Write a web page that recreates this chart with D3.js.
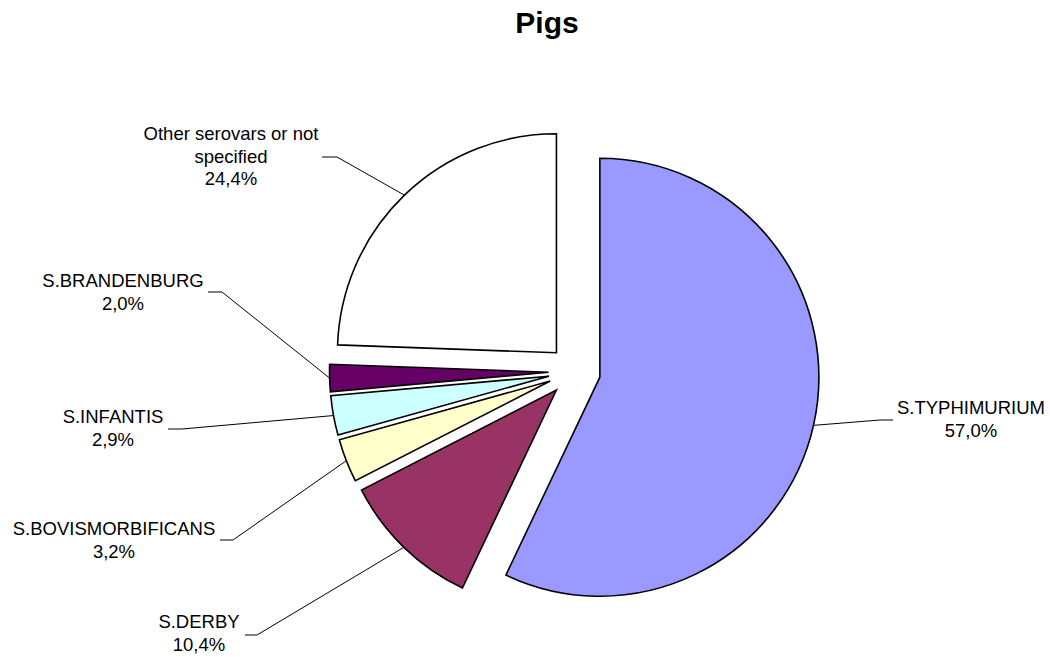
<!DOCTYPE html>
<html>
<head>
<meta charset="utf-8">
<script src="https://cdn.jsdelivr.net/npm/d3@7"></script>
<style>
  html, body { margin: 0; padding: 0; background: #ffffff; }
  svg { display: block; }
  text { font-family: "Liberation Sans", Arial, sans-serif; fill: #000; }
</style>
</head>
<body>
<svg id="chart" width="1050" height="657"></svg>
<script>
// ---- data ----
const categories = ["S.TYPHIMURIUM", "S.DERBY", "S.BOVISMORBIFICANS", "S.INFANTIS", "S.BRANDENBURG", "Other serovars or not specified"];
const values = [57.0, 10.4, 3.2, 2.9, 2.0, 24.4];
const colors = ["#9999FF", "#993366", "#FFFFCC", "#CCFFFF", "#660066", "#FFFFFF"];
const labelLines = [
  ["S.TYPHIMURIUM"],
  ["S.DERBY"],
  ["S.BOVISMORBIFICANS"],
  ["S.INFANTIS"],
  ["S.BRANDENBURG"],
  ["Other serovars or not", "specified"]
];
const title = "Pigs";

// ---- layout (positions only) ----
const cx = 574.5, cy = 371.5, radius = 219, explode = 26;
// label centre x, first baseline y, leader anchor [x,y], stub end x
const labelLayout = [
  { x: 971, y: 414, ax: 893, ay: 420, sx: 880 },
  { x: 199, y: 628, ax: 245, ay: 635, sx: 257 },
  { x: 114, y: 535, ax: 220, ay: 540, sx: 233 },
  { x: 113, y: 423, ax: 168, ay: 429, sx: 182 },
  { x: 123, y: 287, ax: 208, ay: 292, sx: 222 },
  { x: 231, y: 140, ax: 322, ay: 157, sx: 337 }
];
const lineH = 22.5;

const svg = d3.select("#chart");
const fmt = v => d3.format(".1f")(v).replace(".", ",") + "%";

svg.append("text")
  .attr("x", 547).attr("y", 33)
  .attr("text-anchor", "middle")
  .style("font-size", "30px").style("font-weight", "bold")
  .text(title);

const data = categories.map((c, i) => ({ name: c, value: values[i], color: colors[i], lines: labelLines[i], layout: labelLayout[i] }));
const pie = d3.pie().value(d => d.value).sort(null);
const arcs = pie(data);
const arc = d3.arc().innerRadius(0).outerRadius(radius);

const g = svg.append("g").attr("transform", `translate(${cx},${cy})`);

arcs.forEach(a => {
  const mid = (a.startAngle + a.endAngle) / 2;
  a.dx = Math.sin(mid) * explode;
  a.dy = -Math.cos(mid) * explode;
  a.px = cx + a.dx + Math.sin(mid) * radius;
  a.py = cy + a.dy - Math.cos(mid) * radius;
});

g.selectAll("path.slice").data(arcs).join("path")
  .attr("class", "slice")
  .attr("transform", d => `translate(${d.dx},${d.dy})`)
  .attr("d", arc)
  .attr("fill", d => d.data.color)
  .attr("stroke", "#000")
  .attr("stroke-width", 1.6)
  .attr("stroke-linejoin", "miter");

// leader lines
svg.selectAll("polyline.leader").data(arcs).join("polyline")
  .attr("class", "leader")
  .attr("points", d => {
    const L = d.data.layout;
    return `${L.ax},${L.ay} ${L.sx},${L.ay} ${d.px},${d.py}`;
  })
  .attr("fill", "none")
  .attr("stroke", "#000")
  .attr("stroke-width", 1);

// labels
arcs.forEach(d => {
  const L = d.data.layout;
  const lines = d.data.lines.concat([fmt(d.data.value)]);
  const t = svg.append("text")
    .attr("text-anchor", "middle")
    .style("font-size", "18.5px");
  lines.forEach((ln, i) => {
    t.append("tspan").attr("x", L.x).attr("y", L.y + i * lineH).text(ln);
  });
});
</script>
</body>
</html>
